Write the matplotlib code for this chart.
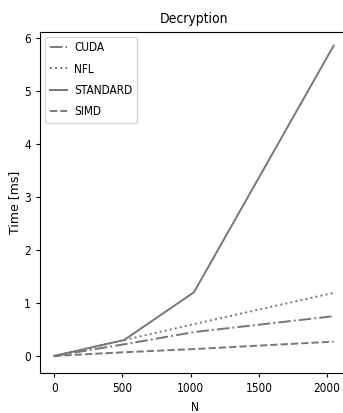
import matplotlib
matplotlib.use("Agg")
import matplotlib.pyplot as plt

N = [0, 512, 1024, 2048]
cuda = [0.0, 0.22, 0.45, 0.75]
nfl = [0.0, 0.30, 0.60, 1.19]
standard = [0.0, 0.30, 1.20, 5.85]
simd = [0.0, 0.07, 0.13, 0.27]
series = [("CUDA", cuda, "-."), ("NFL", nfl, ":"), ("STANDARD", standard, "-"), ("SIMD", simd, "--")]

plt.rcParams["font.stretch"] = "condensed"

fig = plt.figure(figsize=(3.43, 4.13), dpi=100)
ax = fig.add_axes([0.117, 0.097, 0.9, 0.826])
color = "#777777"
for name, vals, ls in series:
    ax.plot(N, vals, ls, color=color, lw=1.4, label=name)
ax.set_xlim(-103, 2159)
ax.set_ylim(-0.32, 6.11)
ax.spines["right"].set_visible(False)
ax.set_xticks([0, 500, 1000, 1500, 2000])
ax.set_yticks([0, 1, 2, 3, 4, 5, 6])
ax.tick_params(labelsize=8.5, length=3)
ax.set_title("Decryption", fontsize=10)
ax.set_xlabel("N", fontsize=8.5)
ax.set_ylabel("Time [ms]", fontsize=9, fontstretch="normal", labelpad=2)
ax.legend(loc="upper left", fontsize=8.5, handlelength=1.5, handletextpad=0.6,
          labelspacing=0.7, borderaxespad=0.4)
fig.savefig("out.png", dpi=100)
